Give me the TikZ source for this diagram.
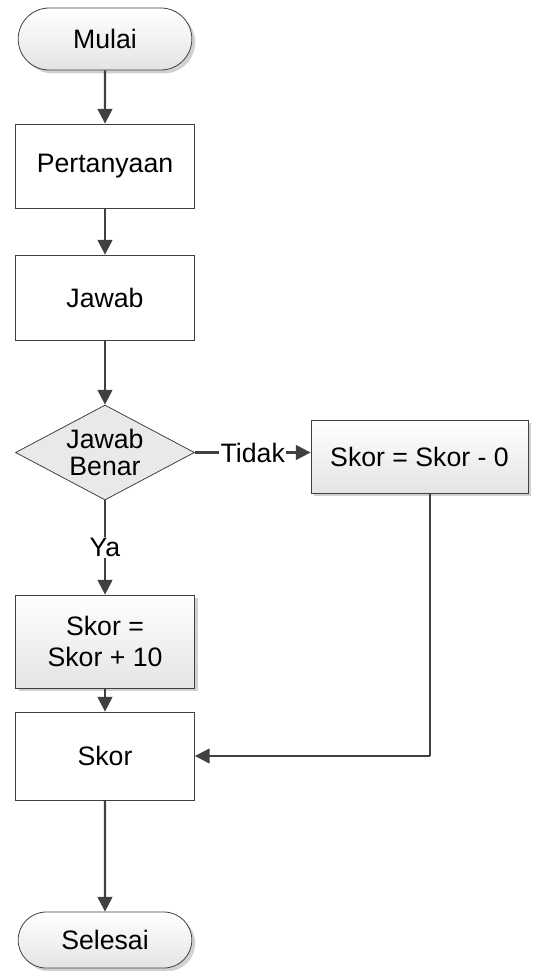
\documentclass[tikz,border=0pt]{standalone}
\usepackage{fontspec}
\setmainfont{Liberation Sans}
\usetikzlibrary{arrows.meta,shapes.geometric,shapes.misc,shadows}
\definecolor{linegray}{HTML}{404040}
\definecolor{fillgray}{HTML}{E4E4E4}
\tikzset{
  txt/.style={font=\fontsize{20}{23}\selectfont},
  base/.style={draw=black!75, line width=0.6pt, align=center, txt, inner sep=2pt},
  shaded/.style={top color=white, bottom color=fillgray,
    drop shadow={shadow xshift=2.5pt, shadow yshift=-2.5pt, fill=black!18, opacity=1}},
  terminal/.style={base, shaded, rounded rectangle, minimum width=134.25pt},
  plainbox/.style={base, fill=white, rectangle, minimum width=134.25pt},
  shadebox/.style={base, shaded, rectangle},
  decision/.style={draw=black!75, line width=0.6pt, fill=fillgray!80, diamond,
    minimum width=134.25pt, minimum height=71.25pt, inner sep=0pt},
  flow/.style={draw=linegray, line width=1.6pt, -{Triangle[length=11pt,width=11pt]}},
  plainflow/.style={draw=linegray, line width=1.6pt},
  lbl/.style={txt, fill=white, inner sep=1pt}
}
\begin{document}
\begin{tikzpicture}[x=0.75pt, y=-0.75pt]
\useasboundingbox (0,0) rectangle (539,971);

\node[terminal, minimum height=46.5pt] (mulai) at (105,39) {Mulai};
\node[plainbox, minimum height=63pt] (tanya) at (105,166) {Pertanyaan};
\node[plainbox, minimum height=63.75pt] (jawab) at (105,297.5) {Jawab};
\node[decision, label={[txt, align=center, font=\fontsize{20}{20}\selectfont]center:Jawab\\Benar}] (benar) at (105,452.5) {};
\node[shadebox, minimum width=162.75pt, minimum height=54.75pt] (kurang) at (419.5,456.5) {Skor = Skor - 0};
\node[shadebox, minimum width=134.25pt, minimum height=69.75pt] (tambah) at (105,641.5) {Skor =\\Skor + 10};
\node[plainbox, minimum height=66pt] (skor) at (105,756) {Skor};
\node[terminal, minimum height=42pt] (selesai) at (105,940) {Selesai};

\draw[flow] (mulai) -- (tanya);
\draw[flow] (tanya) -- (jawab);
\draw[flow] (jawab) -- (benar);
\draw[flow] (benar.east) -- node[lbl] {Tidak} (kurang.west |- benar.east);
\draw[flow] (benar) -- node[lbl, pos=0.5] {Ya} (tambah);
\draw[flow] (tambah) -- (skor);
\coordinate (belok) at (430,756);
\draw[plainflow] (kurang.south -| belok) -- (belok);
\draw[flow] (belok) -- (skor.east);
\draw[flow] (skor) -- (selesai);
\end{tikzpicture}
\end{document}
